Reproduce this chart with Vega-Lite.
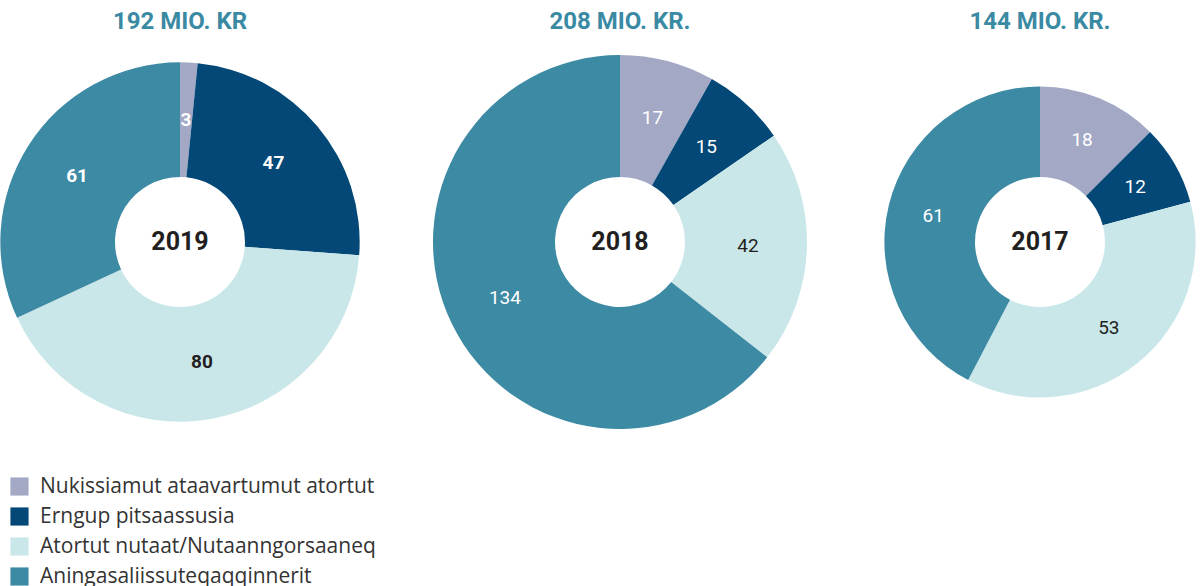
{
  "$schema": "https://vega.github.io/schema/vega-lite/v6.json",
  "background": "white",
  "padding": {"left": 0, "right": 0, "top": 10, "bottom": 0},
  "spacing": 0,
  "datasets": {
    "d": [
      {"year": "2019", "cat": "Nukissiamut ataavartumut atortut", "value": 3, "order": 1, "total": 192},
      {"year": "2019", "cat": "Erngup pitsaassusia", "value": 47, "order": 2, "total": 192},
      {"year": "2019", "cat": "Atortut nutaat/Nutaanngorsaaneq", "value": 80, "order": 3, "total": 192},
      {"year": "2019", "cat": "Aningasaliissuteqaqqinnerit", "value": 61, "order": 4, "total": 192},
      {"year": "2018", "cat": "Nukissiamut ataavartumut atortut", "value": 17, "order": 1, "total": 208},
      {"year": "2018", "cat": "Erngup pitsaassusia", "value": 15, "order": 2, "total": 208},
      {"year": "2018", "cat": "Atortut nutaat/Nutaanngorsaaneq", "value": 42, "order": 3, "total": 208},
      {"year": "2018", "cat": "Aningasaliissuteqaqqinnerit", "value": 134, "order": 4, "total": 208},
      {"year": "2017", "cat": "Nukissiamut ataavartumut atortut", "value": 18, "order": 1, "total": 144},
      {"year": "2017", "cat": "Erngup pitsaassusia", "value": 12, "order": 2, "total": 144},
      {"year": "2017", "cat": "Atortut nutaat/Nutaanngorsaaneq", "value": 53, "order": 3, "total": 144},
      {"year": "2017", "cat": "Aningasaliissuteqaqqinnerit", "value": 61, "order": 4, "total": 144}
    ]
  },
  "resolve": {"scale": {"color": "shared", "radius": "shared", "theta": "shared"}},
  "hconcat": [
    {
      "width": 360, "height": 400,
      "title": {"text": "192 MIO. KR"},
      "data": {"name": "d"},
      "transform": [{"filter": "datum.year == '2019'"}],
      "layer": [
        {
          "mark": {"type": "arc", "stroke": null},
          "encoding": {
            "theta": {"field": "value", "type": "quantitative", "stack": "normalize"},
            "order": {"field": "order", "type": "quantitative"},
            "radius": {"field": "total", "type": "quantitative", "scale": {"type": "sqrt", "domain": [0, 208], "range": [0, 187], "zero": true}},
            "radius2": {"value": 65},
            "color": {"field": "cat", "type": "nominal",
              "scale": {"domain": ["Nukissiamut ataavartumut atortut", "Erngup pitsaassusia", "Atortut nutaat/Nutaanngorsaaneq", "Aningasaliissuteqaqqinnerit"], "range": ["#a3a9c5", "#034876", "#c9e7e9", "#3c8aa3"]},
              "legend": {"orient": "none", "legendX": 9, "legendY": 434, "direction": "vertical", "title": null}}
          }
        },
        {
          "mark": {"type": "text", "radius": 122, "fontSize": 19, "fontWeight": "bold", "font": "Roboto"},
          "encoding": {
            "theta": {"field": "value", "type": "quantitative", "stack": "normalize"},
            "order": {"field": "order", "type": "quantitative"},
            "text": {"field": "value", "type": "quantitative"},
            "color": {"condition": {"test": "datum.cat == 'Atortut nutaat/Nutaanngorsaaneq'", "value": "#231f20"}, "value": "white"}
          }
        },
        {
          "transform": [{"aggregate": [{"op": "sum", "field": "value", "as": "s"}], "groupby": ["year"]}],
          "mark": {"type": "text", "fontSize": 25, "fontWeight": "bold", "color": "#231f20", "font": "Roboto"},
          "encoding": {"text": {"field": "year", "type": "nominal"}}
        }
      ]
    },
    {
      "width": 520, "height": 400,
      "title": {"text": "208 MIO. KR."},
      "data": {"name": "d"},
      "transform": [{"filter": "datum.year == '2018'"}],
      "layer": [
        {
          "mark": {"type": "arc", "stroke": null},
          "encoding": {
            "theta": {"field": "value", "type": "quantitative", "stack": "normalize"},
            "order": {"field": "order", "type": "quantitative"},
            "radius": {"field": "total", "type": "quantitative", "scale": {"type": "sqrt", "domain": [0, 208], "range": [0, 187], "zero": true}},
            "radius2": {"value": 65},
            "color": {"field": "cat", "type": "nominal",
              "scale": {"domain": ["Nukissiamut ataavartumut atortut", "Erngup pitsaassusia", "Atortut nutaat/Nutaanngorsaaneq", "Aningasaliissuteqaqqinnerit"], "range": ["#a3a9c5", "#034876", "#c9e7e9", "#3c8aa3"]},
              "legend": {"orient": "none", "legendX": 9, "legendY": 434, "direction": "vertical", "title": null}}
          }
        },
        {
          "mark": {"type": "text", "radius": 128, "fontSize": 19, "fontWeight": "normal", "font": "Roboto"},
          "encoding": {
            "theta": {"field": "value", "type": "quantitative", "stack": "normalize"},
            "order": {"field": "order", "type": "quantitative"},
            "text": {"field": "value", "type": "quantitative"},
            "color": {"condition": {"test": "datum.cat == 'Atortut nutaat/Nutaanngorsaaneq'", "value": "#231f20"}, "value": "white"}
          }
        },
        {
          "transform": [{"aggregate": [{"op": "sum", "field": "value", "as": "s"}], "groupby": ["year"]}],
          "mark": {"type": "text", "fontSize": 25, "fontWeight": "bold", "color": "#231f20", "font": "Roboto"},
          "encoding": {"text": {"field": "year", "type": "nominal"}}
        }
      ]
    },
    {
      "width": 320, "height": 400,
      "title": {"text": "144 MIO. KR."},
      "data": {"name": "d"},
      "transform": [{"filter": "datum.year == '2017'"}],
      "layer": [
        {
          "mark": {"type": "arc", "stroke": null},
          "encoding": {
            "theta": {"field": "value", "type": "quantitative", "stack": "normalize"},
            "order": {"field": "order", "type": "quantitative"},
            "radius": {"field": "total", "type": "quantitative", "scale": {"type": "sqrt", "domain": [0, 208], "range": [0, 187], "zero": true}},
            "radius2": {"value": 65},
            "color": {"field": "cat", "type": "nominal",
              "scale": {"domain": ["Nukissiamut ataavartumut atortut", "Erngup pitsaassusia", "Atortut nutaat/Nutaanngorsaaneq", "Aningasaliissuteqaqqinnerit"], "range": ["#a3a9c5", "#034876", "#c9e7e9", "#3c8aa3"]},
              "legend": {"orient": "none", "legendX": 9, "legendY": 434, "direction": "vertical", "title": null}}
          }
        },
        {
          "mark": {"type": "text", "radius": 110, "fontSize": 19, "fontWeight": "normal", "font": "Roboto"},
          "encoding": {
            "theta": {"field": "value", "type": "quantitative", "stack": "normalize"},
            "order": {"field": "order", "type": "quantitative"},
            "text": {"field": "value", "type": "quantitative"},
            "color": {"condition": {"test": "datum.cat == 'Atortut nutaat/Nutaanngorsaaneq'", "value": "#231f20"}, "value": "white"}
          }
        },
        {
          "transform": [{"aggregate": [{"op": "sum", "field": "value", "as": "s"}], "groupby": ["year"]}],
          "mark": {"type": "text", "fontSize": 25, "fontWeight": "bold", "color": "#231f20", "font": "Roboto"},
          "encoding": {"text": {"field": "year", "type": "nominal"}}
        }
      ]
    }
  ],
  "config": {
    "view": {"stroke": null},
    "font": "Roboto",
    "title": {"fontSize": 24, "font": "Roboto", "fontWeight": "bold", "color": "#3b8aa3", "anchor": "middle", "offset": 8},
    "legend": {
      "symbolType": "square",
      "symbolSize": 330,
      "symbolStrokeWidth": 0,
      "symbolOpacity": 1,
      "labelFontSize": 21,
      "labelFont": "Open Sans",
      "labelColor": "#333333",
      "labelOffset": 10,
      "labelLimit": 600,
      "rowPadding": 8
    }
  }
}
